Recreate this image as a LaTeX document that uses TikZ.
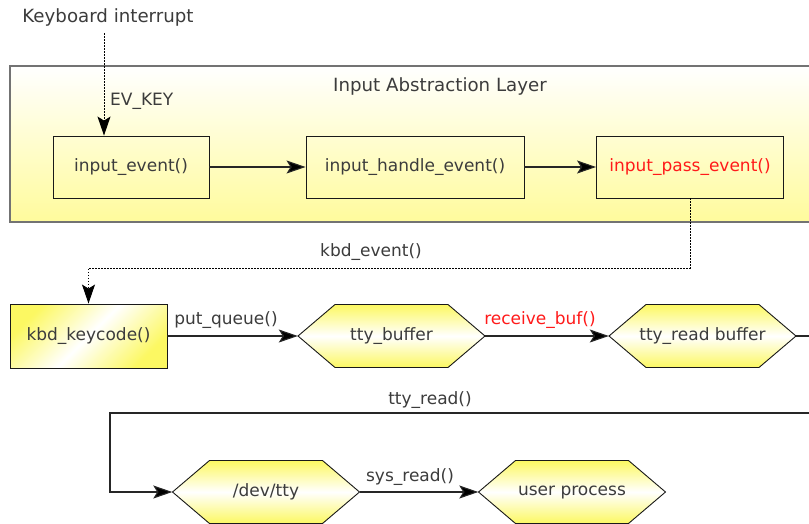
\documentclass[tikz,border=0pt]{standalone}
\usepackage{fontspec}
\setmainfont{DejaVu Sans}
\usetikzlibrary{arrows.meta,calc}
\definecolor{txt}{HTML}{3C3C3C}
\definecolor{layery}{HTML}{FFFB9C}
\definecolor{hexy}{HTML}{FCF862}
\definecolor{redtxt}{HTML}{FF1A1A}
\tikzset{
  every node/.style={font=\fontsize{17}{20}\selectfont, text=txt},
  bigtext/.style={font=\fontsize{18.2}{22}\selectfont},
  arr/.style={-{Stealth[length=19pt,width=13pt,inset=4pt,fill=black]}},
  solidline/.style={draw=black!85, line width=1.1pt},
  dotline/.style={draw=black, line width=1pt, dash pattern=on 1.5pt off 1.5pt},
  funcbox/.style={draw=black!90, line width=0.9pt, inner sep=0pt},
  hexlabel/.style={inner sep=0pt, minimum width=187pt, minimum height=63pt},
  hexfill/.style={draw=black!90, line width=0.9pt, top color=hexy, bottom color=hexy, middle color=white},
  lbl/.style={inner sep=1pt}
}
\newcommand\hexnode[3]{%
  \path[hexfill] ($(#2)+(-93.5,0)$) -- ++(37,-31.5) -- ++(113,0) -- ++(37,31.5)
     -- ++(-37,31.5) -- ++(-113,0) -- cycle;
  \node[hexlabel] (#1) at (#2) {#3};}
\begin{document}
\begin{tikzpicture}[x=1pt,y=-1pt]
\clip (0,0) rectangle (809,523);
\fill[white] (0,0) rectangle (809,523);
% layer
\path[draw=black!55, line width=1.6pt, top color=white, bottom color=layery]
  (10,66) rectangle (840,222);
\node[bigtext] (title) at (440,86) {Input Abstraction Layer};
\node[bigtext] (kbint) at (108,17) {Keyboard interrupt};
\node[anchor=west, lbl] (evkey) at (109,101) {EV\_KEY};
\node[funcbox, minimum width=156pt, minimum height=62pt] (ie) at (131,167) {input\_event()};
\node[funcbox, minimum width=218pt, minimum height=62pt] (ihe) at (415,167) {input\_handle\_event()};
\node[funcbox, minimum width=187pt, minimum height=62pt, text=redtxt] (ipe) at (690,167) {input\_pass\_event()};
% second row
\node[funcbox, minimum width=157pt, minimum height=64pt, top color=hexy, bottom color=hexy, middle color=white, shading angle=45] (kbd) at (88.5,336) {kbd\_keycode()};
\hexnode{ttybuf}{391.5,336}{tty\_buffer}
\hexnode{ttyread}{702.5,336}{tty\_read buffer}
\hexnode{devtty}{266,492}{/dev/tty}
\hexnode{user}{572,492}{user process}
% labels
\node[lbl] (lkbd) at (371,252) {kbd\_event()};
\node[lbl] (lput) at (226,320) {put\_queue()};
\node[lbl, text=redtxt] (lrecv) at (540,320) {receive\_buf()};
\node[lbl] (lttyr) at (430,400) {tty\_read()};
\node[lbl] (lsys) at (410,477) {sys\_read()};
% connectors
\coordinate (kstart) at (104,33);
\draw[dotline, arr] (kstart) -- (kstart |- ie.north);
\draw[solidline, arr] (ie.east) -- (ihe.west);
\draw[solidline, arr] (ihe.east) -- (ipe.west);
\coordinate (kbdturn) at (0,268);
\draw[dotline, arr] (ipe.south) -- (ipe.south |- kbdturn) -- (kbd.north |- kbdturn) -- (kbd.north);
\draw[solidline, arr] (kbd.east) -- (ttybuf.west);
\draw[solidline, arr] (ttybuf.east) -- (ttyread.west);
\coordinate (rturn) at (840,413);
\coordinate (lturn) at (110,413);
\draw[solidline, arr] (ttyread.east) -- (ttyread.east -| rturn) -- (rturn) -- (lturn) -- (lturn |- devtty.west) -- (devtty.west);
\draw[solidline, arr] (devtty.east) -- (user.west);
\end{tikzpicture}
\end{document}
